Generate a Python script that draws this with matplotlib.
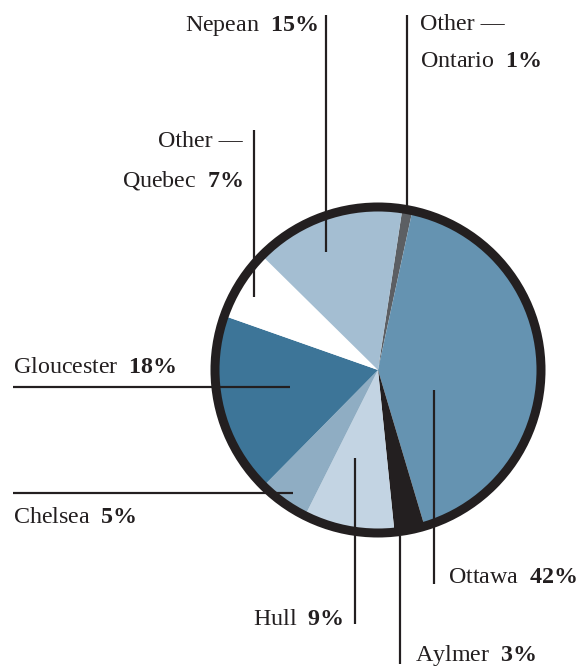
import matplotlib
matplotlib.use("Agg")
import matplotlib.pyplot as plt
from matplotlib.patches import Circle

# Share of respondents by place of residence (clockwise from top)
regions = ["Other \u2014\nOntario", "Ottawa", "Aylmer", "Hull", "Chelsea",
           "Gloucester", "Other \u2014\nQuebec", "Nepean"]
shares = [1, 42, 3, 9, 5, 18, 7, 15]
colors = ["#5c5f63", "#6593b1", "#231f20", "#c3d4e3", "#8fadc3",
          "#3d7598", "#ffffff", "#a4bed2"]

INK = "#231f20"
W, H = 581, 669
FS = 17.3

plt.rcParams["font.family"] = ["Liberation Serif", "DejaVu Serif"]
plt.rcParams["mathtext.fontset"] = "custom"
plt.rcParams["mathtext.rm"] = "Liberation Serif"
plt.rcParams["mathtext.bf"] = "Liberation Serif:bold"

fig = plt.figure(figsize=(W / 100, H / 100), dpi=100)
ax = fig.add_axes([0, 0, 1, 1])

cx, cy = 378, H - 370
r_ring = 163

ax.pie(shares, colors=colors, startangle=81.4, counterclock=False,
       center=(cx, cy), radius=r_ring,
       wedgeprops=dict(linewidth=0))
ax.add_patch(Circle((cx, cy), r_ring, fill=False, edgecolor=INK,
                    linewidth=9 * 0.72, zorder=5))

ax.set_xlim(0, W)
ax.set_ylim(0, H)
ax.set_aspect("auto")
ax.axis("off")

lw = 2.2 * 0.72


def vline(x, y0, y1):
    ax.plot([x, x], [H - y0, H - y1], color=INK, lw=lw, zorder=6,
            solid_capstyle="butt")


def hline(y, x0, x1):
    ax.plot([x0, x1], [H - y, H - y], color=INK, lw=lw, zorder=6,
            solid_capstyle="butt")


def label(name, pct, x, y, ha="left"):
    txt = name + r"  $\mathbf{" + str(pct) + r"\%}$"
    ax.text(x, H - y, txt, ha=ha, va="baseline", fontsize=FS,
            color=INK, zorder=7)


def plain(txt, x, y, ha="left"):
    ax.text(x, H - y, txt, ha=ha, va="baseline", fontsize=FS,
            color=INK, zorder=7)


lab = dict(zip(regions, shares))

# Nepean
vline(326, 15, 252)
label("Nepean", lab["Nepean"], 318, 31, ha="right")

# Other Ontario
vline(407, 15, 206)
plain("Other \u2014", 420, 30)
label("Ontario", lab["Other \u2014\nOntario"], 420, 67)

# Other Quebec
vline(254, 130, 297)
plain("Other \u2014", 243, 147, ha="right")
label("Quebec", lab["Other \u2014\nQuebec"], 243, 186, ha="right")

# Gloucester
hline(387, 13, 290)
label("Gloucester", lab["Gloucester"], 13, 373)

# Chelsea
hline(493, 13, 293)
label("Chelsea", lab["Chelsea"], 13, 523)

# Hull
vline(355, 458, 624)
label("Hull", lab["Hull"], 343, 625, ha="right")

# Aylmer
vline(400, 536, 664)
label("Aylmer", lab["Aylmer"], 415, 661)

# Ottawa
vline(434, 390, 584)
label("Ottawa", lab["Ottawa"], 448, 583)

fig.savefig("out.png", dpi=100, facecolor="white")
